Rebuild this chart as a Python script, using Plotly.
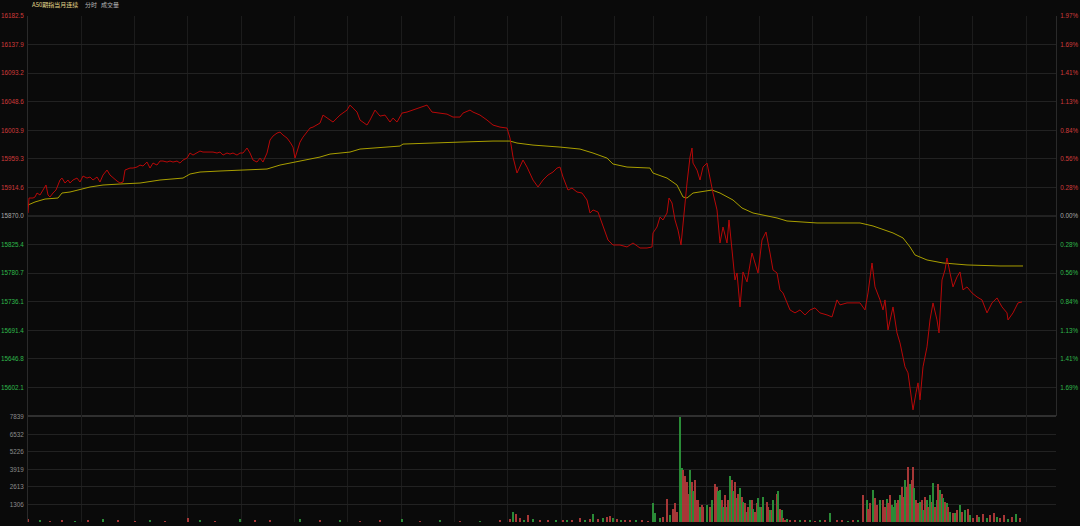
import plotly.graph_objects as go

# ---------------- data ----------------
base_price = 15870.0

price_min = [0, 1, 5, 7, 9, 12, 15, 18, 20, 22, 25, 28, 32, 34, 37, 40, 42, 45, 49, 52, 55, 59, 62, 65,
             69, 72, 75, 79, 82, 85, 89, 92, 95, 97, 102, 105, 109, 112, 115, 119, 122, 125, 129, 132,
             135, 139, 142, 145, 149, 152, 155, 159, 162, 165, 169, 172, 175, 179, 182, 185, 189, 192,
             195, 199, 202, 205, 209, 212, 215, 219, 222, 225, 229, 232, 235, 239, 242, 245, 249, 252,
             255, 259, 262, 265, 267, 270, 272, 275, 279, 282, 285, 289, 292, 295, 299, 302, 305, 309,
             312, 319, 322, 325, 329, 332, 339, 342, 347, 352, 357, 362, 365, 369, 374, 379, 385, 392,
             399, 404, 412, 419, 425, 432, 435, 442, 445, 452, 459, 465, 472, 479, 482, 485, 489, 492,
             495, 499, 502, 505, 510, 515, 520, 525, 529, 532, 535, 540, 544, 549, 554, 559, 562, 565,
             570, 574, 577, 580, 585, 592, 599, 605, 612, 619, 624, 625, 629, 632, 635, 639, 641, 644,
             647, 650, 653, 655, 659, 662, 664, 665, 669, 672, 675, 679, 682, 685, 689, 692, 695, 699,
             701, 704, 707, 709, 712, 715, 719, 724, 727, 730, 734, 738, 742, 745, 749, 752, 755, 759,
             762, 767, 772, 777, 782, 787, 792, 799, 804, 809, 812, 819, 825, 832, 837, 840, 844, 847,
             852, 855, 857, 860, 865, 869, 872, 877, 880, 882, 885, 888, 890, 892, 895, 899, 902, 905,
             909, 911, 914, 917, 919, 922, 925, 929, 932, 935, 939, 944, 949, 954, 959, 964, 969, 974,
             979, 980, 985, 990, 994]
price_val = [15874.7, 15898.1, 15898.1, 15899.7, 15905.9, 15902.8, 15910.6, 15918.4, 15902.8, 15899.7,
             15905.9, 15910.6, 15926.2, 15929.3, 15921.5, 15926.2, 15921.5, 15926.2, 15929.3, 15923.1,
             15932.4, 15929.3, 15930.9, 15926.2, 15930.9, 15923.1, 15934.0, 15941.8, 15934.0, 15929.3,
             15924.6, 15921.5, 15923.1, 15941.8, 15944.9, 15944.9, 15946.5, 15949.6, 15948.1, 15954.3,
             15944.9, 15952.7, 15949.6, 15955.9, 15955.9, 15954.3, 15955.9, 15954.3, 15955.9, 15952.7,
             15957.4, 15960.5, 15968.4, 15965.2, 15968.4, 15971.5, 15969.9, 15969.9, 15969.9, 15969.9,
             15968.4, 15969.9, 15965.2, 15968.4, 15966.8, 15968.4, 15965.2, 15968.4, 15968.4, 15976.2,
             15968.4, 15957.4, 15954.3, 15960.5, 15954.3, 15968.4, 15988.7, 15994.9, 15999.6, 16001.1,
             15996.5, 15991.8, 15985.5, 15977.7, 15960.5, 15977.7, 15985.5, 15993.3, 16001.1, 16007.4,
             16008.9, 16012.1, 16015.2, 16027.7, 16023.0, 16019.9, 16016.8, 16023.0, 16027.7, 16035.5,
             16043.3, 16038.6, 16032.4, 16019.9, 16012.1, 16019.9, 16035.5, 16026.1, 16027.7, 16016.8,
             16023.0, 16016.8, 16030.8, 16032.4, 16035.5, 16040.2, 16043.3, 16032.4, 16030.8, 16029.2,
             16024.6, 16024.6, 16030.8, 16035.5, 16032.4, 16027.7, 16019.9, 16012.1, 16008.9, 16007.4,
             15991.8, 15962.1, 15937.1, 15946.5, 15957.4, 15946.5, 15937.1, 15926.2, 15915.3, 15926.2,
             15934.0, 15938.7, 15944.9, 15946.5, 15930.9, 15910.6, 15913.7, 15907.5, 15905.9, 15895.0,
             15874.7, 15879.4, 15876.2, 15859.1, 15843.5, 15832.5, 15824.7, 15824.7, 15821.6, 15827.8,
             15820.0, 15820.0, 15821.6, 15843.5, 15852.8, 15868.4, 15863.8, 15874.7, 15898.1, 15890.3,
             15863.8, 15848.1, 15824.7, 15859.1, 15921.5, 15962.1, 15976.2, 15952.7, 15941.8, 15926.2,
             15946.5, 15952.7, 15926.2, 15905.9, 15879.4, 15827.8, 15852.8, 15827.8, 15863.8, 15816.9,
             15770.1, 15781.0, 15727.9, 15782.6, 15767.0, 15812.2, 15796.6, 15781.0, 15832.5, 15845.0,
             15812.2, 15785.7, 15781.0, 15754.5, 15749.8, 15734.2, 15723.2, 15718.6, 15723.2, 15715.4,
             15723.2, 15726.4, 15718.6, 15715.4, 15712.3, 15738.9, 15731.1, 15734.2, 15734.2, 15734.2,
             15723.2, 15749.8, 15796.6, 15759.2, 15738.9, 15723.2, 15738.9, 15692.0, 15727.9, 15687.3,
             15671.7, 15634.3, 15624.9, 15603.0, 15567.1, 15593.7, 15609.3, 15582.7, 15634.3, 15665.5,
             15707.6, 15734.2, 15707.6, 15687.3, 15770.1, 15785.7, 15804.4, 15781.0, 15759.2, 15774.8,
             15782.6, 15754.5, 15759.2, 15749.8, 15743.5, 15738.9, 15718.6, 15734.2, 15742.0, 15727.9,
             15718.6, 15707.6, 15718.6, 15734.2, 15735.7]

avg_min = [0, 7, 17, 30, 34, 42, 62, 75, 92, 112, 132, 155, 162, 172, 192, 239, 252, 272, 292, 302,
           322, 332, 372, 375, 399, 432, 465, 482, 489, 505, 532, 552, 565, 579, 585, 599, 622, 625,
           639, 649, 655, 659, 665, 672, 684, 692, 705, 714, 725, 749, 759, 789, 832, 845, 865, 875,
           882, 887, 899, 915, 939, 972, 995]
avg_val = [15887.2, 15891.9, 15896.5, 15898.1, 15905.9, 15907.5, 15915.3, 15918.4, 15920.0, 15921.5,
           15926.2, 15929.3, 15935.6, 15938.7, 15940.3, 15943.4, 15949.6, 15955.9, 15962.1, 15966.8,
           15969.9, 15974.6, 15979.3, 15982.4, 15984.0, 15985.5, 15987.1, 15987.1, 15984.0, 15980.8,
           15977.7, 15974.6, 15968.4, 15960.5, 15951.2, 15946.5, 15944.9, 15937.1, 15929.3, 15918.4,
           15899.7, 15898.1, 15905.9, 15907.5, 15910.6, 15905.9, 15895.0, 15882.5, 15874.7, 15866.9,
           15862.2, 15859.1, 15859.1, 15854.4, 15843.5, 15835.7, 15821.6, 15809.1, 15801.3, 15796.6,
           15793.5, 15791.9, 15791.9]

vol_min = [0, 12, 22, 34, 47, 60, 75, 90, 107, 122, 137, 160, 172, 187, 212, 227, 242, 272, 292, 312,
           332, 352, 374, 392, 412, 432, 452, 472, 482, 485, 488, 492, 496, 500, 505, 512, 520, 528,
           535, 539, 544, 552, 557, 562, 565, 570, 575, 579, 582, 585, 589, 593, 597, 602, 608, 614, 620,
           625, 627, 632, 635, 639, 642, 645, 647, 649, 652, 654, 655, 657, 659, 660, 662, 664, 665,
           667, 669, 670, 672, 674, 675, 679, 682, 684, 687, 689, 690, 692, 694, 695, 697, 699, 700,
           702, 704, 705, 707, 709, 710, 712, 714, 715, 717, 719, 720, 722, 724, 725, 727, 729, 730,
           732, 734, 735, 739, 740, 742, 744, 745, 749, 750, 752, 754, 755, 757, 759, 762, 767, 772,
           777, 782, 787, 792, 797, 802, 809, 814, 820, 825, 830, 835, 839, 840, 842, 845, 847, 849,
           852, 855, 857, 859, 860, 862, 864, 865, 867, 869, 870, 872, 874, 875, 877, 879, 880, 882,
           884, 885, 886, 888, 890, 892, 894, 895, 897, 899, 900, 902, 904, 905, 907, 909, 910, 912,
           914, 915, 917, 919, 920, 922, 925, 927, 929, 932, 934, 937, 940, 942, 945, 949, 951, 955,
           959, 962, 966, 969, 972, 976, 980, 984, 988, 992, 994]
vol_val = [220, 80, 60, 150, 60, 120, 200, 80, 60, 100, 60, 300, 80, 60, 250, 80, 120, 200, 100, 80,
           60, 80, 200, 60, 80, 60, 60, 80, 200, 750, 570, 300, 150, 520, 200, 100, 150, 100, 120,
           150, 100, 300, 150, 200, 570, 200, 300, 350, 450, 300, 200, 150, 100, 120, 80, 100, 60,
           1420, 650, 280, 400, 1700, 500, 1000, 1400, 780, 7839, 4000, 3900, 3400, 3000, 2100, 3900,
           3000, 2300, 3100, 1650, 1650, 1100, 1250, 1100, 1250, 1100, 1650, 2800, 2600, 2300, 2400,
           1650, 1100, 2000, 1100, 1650, 3400, 3100, 2300, 3000, 1800, 2100, 2500, 1900, 1500, 1400,
           780, 1100, 1650, 1650, 1000, 780, 1400, 1800, 1100, 1100, 1900, 1500, 1100, 900, 900, 1650,
           2100, 2300, 1000, 900, 280, 150, 200, 150, 100, 150, 80, 100, 60, 80, 100, 650, 100, 80,
           60, 100, 100, 2000, 1650, 1000, 1400, 2400, 1800, 1250, 1650, 1650, 1100, 1700, 1400, 2000,
           1250, 1100, 1650, 1400, 1650, 2000, 2600, 1900, 3100, 2600, 4100, 2800, 3100, 4100, 2500,
           1650, 1400, 1500, 1650, 900, 1900, 1650, 1100, 2000, 1500, 2900, 1100, 1650, 2800, 2400,
           2100, 1800, 1500, 1400, 1100, 780, 650, 650, 900, 1250, 780, 900, 1000, 500, 280, 500,
           400, 600, 300, 500, 700, 400, 300, 500, 250, 350, 600, 300]
vol_dir = ("rgrrgrgrrgrrgrgrrgrgrrgrgrgrrgrrgrgrrgrgrrgrgrgrrgrgrrgr"
           "rgggrrgrrrggrrrrgrgrrrgrrgrgrrggrgrgrgrgrgrgrgrgrgrgrrggr"
           "grrgrgrgrgrrgrrgrgrgrgrrgrgrgrrgrrgrrgrrgggrrgrrgrrgrrgrrgrgrgrgrgrgrgrgrgrgrgrgrg")

price_ticks = [16182.5, 16137.9, 16093.2, 16048.6, 16003.9, 15959.3, 15914.6, 15870.0,
               15825.4, 15780.7, 15736.1, 15691.4, 15646.8, 15602.1]
pct_labels = ["1.97%", "1.69%", "1.41%", "1.13%", "0.84%", "0.56%", "0.28%", "0.00%",
              "0.28%", "0.56%", "0.84%", "1.13%", "1.41%", "1.69%"]
vol_ticks = [1306, 2613, 3919, 5226, 6532, 7839]

# ---------------- styling ----------------
BG = "#0a0a0a"
RED_T = "#d03a3a"
GRN_T = "#2fb84a"
GRY_T = "#a8a8a8"
FONT = "Liberation Sans"
TICK_SIZE = 6.3

def col(v):
    if abs(v - base_price) < 1e-6:
        return GRY_T
    return RED_T if v > base_price else GRN_T

left_text = [f'<span style="color:{col(v)}">{v:.1f}</span>' for v in price_ticks]
right_text = [f'<span style="color:{col(v)}">{t}</span>' for v, t in zip(price_ticks, pct_labels)]

n_vol = len(vol_val)
dirs = (vol_dir * 3)[:n_vol]
bar_colors = ["#b83c3c" if d == "r" else "#2e9a3c" for d in dirs]

# grid positions (session 1 then session 2 after break)
grid_x = [i * 53.33 for i in range(12)] + [625 + i * 53.33 for i in range(8)]

split = 106 / 506

fig = go.Figure()
fig.add_trace(go.Bar(x=vol_min, y=vol_val, marker=dict(color=bar_colors, line=dict(width=0)),
                     width=1.3, opacity=0.9, xaxis="x", yaxis="y2", hoverinfo="skip"))
fig.add_trace(go.Scatter(x=avg_min, y=avg_val, mode="lines", line=dict(color="#a89e00", width=1),
                         xaxis="x", yaxis="y", hoverinfo="skip"))
fig.add_trace(go.Scatter(x=price_min, y=price_val, mode="lines", line=dict(color="#b80808", width=1),
                         xaxis="x", yaxis="y", hoverinfo="skip"))
# dummy trace to activate right axis
fig.add_trace(go.Scatter(x=[0], y=[base_price], mode="markers", marker=dict(opacity=0),
                         xaxis="x", yaxis="y3", hoverinfo="skip"))

fig.update_layout(
    width=1080, height=526,
    autosize=False,
    margin=dict(l=28, r=24, t=16, b=4, pad=0),
    paper_bgcolor=BG, plot_bgcolor=BG,
    showlegend=False, bargap=0,
    xaxis=dict(range=[0, 1028], tickvals=grid_x, showticklabels=False, showgrid=True,
               gridcolor="#1c1c1c", gridwidth=1, zeroline=False, showline=False, ticks="",
               automargin=False),
    yaxis=dict(domain=[split, 1], range=[15557.5, 16182.5], tickvals=price_ticks, ticktext=left_text,
               tickfont=dict(family=FONT, size=TICK_SIZE, color=GRY_T), showgrid=True, gridcolor="#222222",
               zeroline=False, showline=True, linecolor="#2a2a2a", ticks="", ticklabelstandoff=2,
               automargin=False),
    yaxis3=dict(overlaying="y", side="right", range=[15557.5, 16182.5], tickvals=price_ticks,
                ticktext=right_text, tickfont=dict(family=FONT, size=TICK_SIZE, color=GRY_T), showgrid=False,
                zeroline=False, showline=True, linecolor="#2a2a2a", ticks="", ticklabelstandoff=2,
                automargin=False),
    yaxis2=dict(domain=[0, split], range=[0, 7900], tickvals=vol_ticks, ticktext=[str(v) for v in vol_ticks],
                tickfont=dict(family=FONT, size=TICK_SIZE, color="#8a8a8a"), showgrid=True, gridcolor="#222222",
                zeroline=False, showline=True, linecolor="#2a2a2a", ticks="", ticklabelstandoff=2,
                automargin=False),
)

# base (previous close) line and panel separator
fig.add_shape(type="line", xref="paper", yref="y", x0=0, x1=1, y0=base_price, y1=base_price,
              line=dict(color="#383838", width=1), layer="below")
fig.add_shape(type="line", xref="paper", yref="paper", x0=0, x1=1, y0=split, y1=split,
              line=dict(color="#303030", width=2), layer="below")

CJK = "Noto Sans CJK SC"
title_y = 1 + 11 / 506
fig.add_annotation(text="A50期指当月连续", xref="paper", yref="paper", x=2 / 1028, y=title_y,
                   xanchor="left", yanchor="middle", showarrow=False,
                   font=dict(family=CJK, size=6, color="#e2d68a"))
fig.add_annotation(text="分时", xref="paper", yref="paper", x=55 / 1028, y=title_y,
                   xanchor="left", yanchor="middle", showarrow=False,
                   font=dict(family=CJK, size=6, color="#b8b8b8"))
fig.add_annotation(text="成交量", xref="paper", yref="paper", x=71 / 1028, y=title_y,
                   xanchor="left", yanchor="middle", showarrow=False,
                   font=dict(family=CJK, size=6, color="#b8b8b8"))

fig.write_html("out.html", config={"displayModeBar": False},
               post_script="document.body.style.margin='0';document.body.style.background='#0a0a0a';")
